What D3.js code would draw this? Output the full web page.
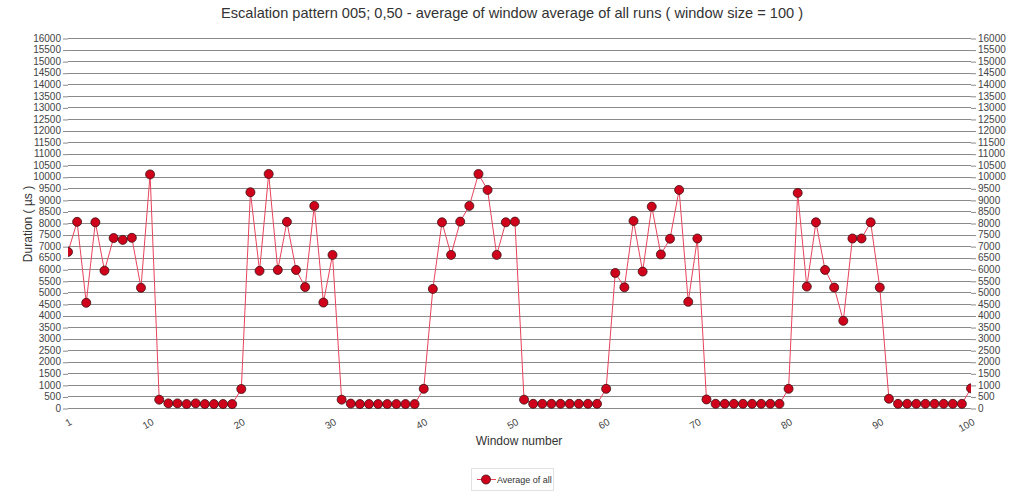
<!DOCTYPE html>
<html>
<head>
<meta charset="utf-8">
<script src="https://cdn.jsdelivr.net/npm/d3@7"></script>
<style>
  html, body { margin: 0; padding: 0; background: #fff; }
  svg { display: block; font-family: "Liberation Sans", Arial, sans-serif; }
</style>
</head>
<body>
<svg id="chart" width="1024" height="493"></svg>
<script>
const titleText = "Escalation pattern 005; 0,50 - average of window average of all runs ( window size = 100 )";
const xTitle = "Window number";
const yTitle = "Duration ( µs )";
const seriesName = "Average of all";

const windows = d3.range(1, 101);
const values = [
  6750, 8050, 4550, 8030, 5940, 7350, 7270, 7360, 5200, 10100,
  360, 200, 200, 170, 200, 170, 170, 170, 170, 820,
  9330, 5930, 10120, 5970, 8050, 5970, 5230, 8740, 4560, 6620,
  360, 190, 170, 170, 170, 170, 170, 170, 170, 830,
  5150, 8030, 6620, 8060, 8740, 10120, 9430, 6620, 8030, 8060,
  360, 180, 180, 180, 180, 180, 180, 180, 180, 830,
  5840, 5220, 8090, 5900, 8710, 6640, 7320, 9430, 4590, 7330,
  370, 180, 180, 180, 180, 180, 180, 180, 180, 830,
  9300, 5250, 8030, 5970, 5210, 3770, 7330, 7330, 8030, 5210,
  400, 180, 180, 180, 180, 180, 180, 180, 180, 850
];
const xTickValues = [1, 10, 20, 30, 40, 50, 60, 70, 80, 90, 100];
const yTickValues = d3.range(0, 16001, 500);

const svg = d3.select("#chart");
const x = d3.scaleLinear().domain([1, 100]).range([68, 971]);
const y = d3.scaleLinear().domain([0, 16000]).range([408, 38]);

svg.append("defs").append("clipPath").attr("id", "plotclip")
  .append("rect").attr("x", x(1)).attr("y", 0).attr("width", x(100) - x(1)).attr("height", 493);

// title
svg.append("text").attr("x", 512).attr("y", 18).attr("text-anchor", "middle")
  .attr("font-size", 14.6).attr("fill", "#333").text(titleText);

// gridlines
svg.append("g").selectAll("line").data(yTickValues).join("line")
  .attr("x1", x(1)).attr("x2", x(100))
  .attr("y1", d => Math.round(y(d)) + 0.5).attr("y2", d => Math.round(y(d)) + 0.5)
  .attr("stroke", "#8a8a8a").attr("stroke-width", 1);

// left axis
const yl = svg.append("g").attr("transform", `translate(${x(1)},0)`)
  .call(d3.axisLeft(y).tickValues(yTickValues).tickSize(5).tickPadding(2).tickFormat(d3.format("d")));
yl.select(".domain").remove();
yl.selectAll("line").attr("stroke", "#8a8a8a").attr("transform", "translate(0,0.5)");
yl.selectAll("text").attr("font-size", 10).attr("fill", "#444").attr("font-family", "Liberation Sans, Arial, sans-serif");

// right axis
const yr = svg.append("g").attr("transform", `translate(${x(100)},0)`)
  .call(d3.axisRight(y).tickValues(yTickValues).tickSize(5).tickPadding(2).tickFormat(d3.format("d")));
yr.select(".domain").remove();
yr.selectAll("line").attr("stroke", "#8a8a8a").attr("transform", "translate(0,0.5)");
yr.selectAll("text").attr("font-size", 10).attr("fill", "#444").attr("font-family", "Liberation Sans, Arial, sans-serif");

// bottom axis labels
const xb = svg.append("g").attr("transform", `translate(0,${y(0)})`)
  .call(d3.axisBottom(x).tickValues(xTickValues).tickSize(0).tickFormat(d3.format("d")));
xb.select(".domain").remove();
xb.selectAll("text")
  .attr("font-size", 10).attr("fill", "#444").attr("font-family", "Liberation Sans, Arial, sans-serif")
  .attr("text-anchor", "end").attr("dy", null).attr("y", 0)
  .attr("transform", "translate(4,16) rotate(-30)");

// axis titles
svg.append("text").attr("x", 519).attr("y", 445).attr("text-anchor", "middle")
  .attr("font-size", 12).attr("fill", "#333").text(xTitle);
svg.append("text").attr("transform", "translate(32,224) rotate(-90)").attr("text-anchor", "middle")
  .attr("font-size", 12).attr("fill", "#333").text(yTitle);

const plot = svg.append("g").attr("clip-path", "url(#plotclip)");

// line
const line = d3.line().x((d, i) => x(windows[i])).y(d => y(d));
plot.append("path").datum(values).attr("d", line)
  .attr("fill", "none").attr("stroke", "#e8445c").attr("stroke-width", 1);

// points
plot.append("g").selectAll("circle").data(values).join("circle")
  .attr("cx", (d, i) => x(windows[i])).attr("cy", d => y(d)).attr("r", 4.5)
  .attr("fill", "#d0021b").attr("stroke", "#3a1010").attr("stroke-width", 0.8);

// legend
const lg = svg.append("g");
lg.append("rect").attr("x", 471.5).attr("y", 468.5).attr("width", 82).attr("height", 22)
  .attr("fill", "#fff").attr("stroke", "#e2e2e2");
lg.append("line").attr("x1", 477).attr("x2", 496).attr("y1", 479.5).attr("y2", 479.5)
  .attr("stroke", "#e8445c").attr("stroke-width", 1);
lg.append("circle").attr("cx", 486).attr("cy", 479.5).attr("r", 4.5)
  .attr("fill", "#d0021b").attr("stroke", "#3a1010").attr("stroke-width", 0.8);
lg.append("text").attr("x", 497).attr("y", 483).attr("font-size", 9).attr("fill", "#333").text(seriesName);
</script>
</body>
</html>
